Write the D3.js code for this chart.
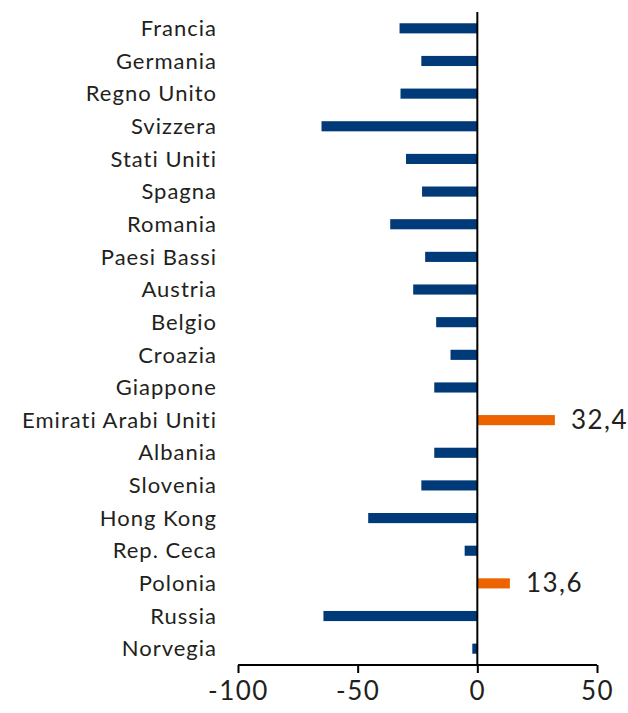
<!DOCTYPE html>
<html>
<head>
<meta charset="utf-8">
<script src="https://cdn.jsdelivr.net/npm/d3@7"></script>
<style>
  body { margin: 0; background: #fff; }
  svg text { font-family: "Lato", "DejaVu Sans", sans-serif; fill: #231f20; }
</style>
</head>
<body>
<div class="container"></div>
<script>
var width = 628,
    height = 713;

var countries = ['Francia', 'Germania', 'Regno Unito', 'Svizzera', 'Stati Uniti', 'Spagna',
    'Romania', 'Paesi Bassi', 'Austria', 'Belgio', 'Croazia', 'Giappone', 'Emirati Arabi Uniti',
    'Albania', 'Slovenia', 'Hong Kong', 'Rep. Ceca', 'Polonia', 'Russia', 'Norvegia'];
var values = [-32.5, -23.4, -32.1, -65.1, -29.8, -23.1, -36.4, -21.8, -26.8, -17.2, -11.2,
    -18.0, 32.4, -18.0, -23.4, -45.6, -5.3, 13.6, -64.3, -2.1];
var xTicks = [-100, -50, 0, 50];

var blue = '#003a78',
    orange = '#eb6400';

var x = d3.scaleLinear().domain([-100, 50]).range([238, 597]);
var y = d3.scaleBand().domain(countries).range([12, 665]).paddingInner(0.69).paddingOuter(0.345);

var svg = d3.select('.container').append('svg')
    .attr('width', width)
    .attr('height', height);

// bars
svg.selectAll('.bar')
    .data(countries)
    .enter().append('rect')
    .attr('class', 'bar')
    .attr('x', (d, i) => x(Math.min(0, values[i])))
    .attr('y', (d) => y(d))
    .attr('width', (d, i) => Math.abs(x(values[i]) - x(0)))
    .attr('height', y.bandwidth())
    .style('fill', (d, i) => values[i] > 0 ? orange : blue);

// labels for positive values
svg.selectAll('.val')
    .data(countries.filter((d, i) => values[i] > 0))
    .enter().append('text')
    .attr('class', 'val')
    .attr('x', (d) => x(values[countries.indexOf(d)]) + 16)
    .attr('y', (d) => y(d) + y.bandwidth() / 2)
    .attr('dy', '0.35em')
    .style('font-size', '26px')
    .style('letter-spacing', '1.5px')
    .text((d) => d3.format('.1f')(values[countries.indexOf(d)]).replace('.', ','));

// category labels
svg.selectAll('.cat')
    .data(countries)
    .enter().append('text')
    .attr('class', 'cat')
    .attr('x', 217)
    .attr('y', (d) => y(d) + y.bandwidth() / 2)
    .attr('dy', '0.35em')
    .attr('text-anchor', 'end')
    .style('font-size', '22px')
    .style('letter-spacing', '1px')
    .text((d) => d);

// zero line
svg.append('line')
    .attr('x1', x(0)).attr('x2', x(0))
    .attr('y1', 12).attr('y2', 665)
    .style('stroke', '#000')
    .style('stroke-width', 2);

// x axis
var xAxis = d3.axisBottom(x).tickValues(xTicks).tickSize(8).tickPadding(9).tickFormat(d3.format('d'));
var gx = svg.append('g')
    .attr('transform', 'translate(0,665)')
    .call(xAxis);
gx.select('.domain').attr('d', 'M' + x(-100) + ',0H' + x(50)).style('stroke', '#000').style('stroke-width', 2);
gx.selectAll('.tick line').style('stroke', '#000').style('stroke-width', 2);
gx.selectAll('.tick text')
    .style('font-family', '"Lato", "DejaVu Sans", sans-serif')
    .style('font-size', '26px')
    .style('letter-spacing', '1.5px')
    .style('fill', '#231f20')
    .text((d) => d < 0 ? '-' + Math.abs(d) : d);
</script>
</body>
</html>
